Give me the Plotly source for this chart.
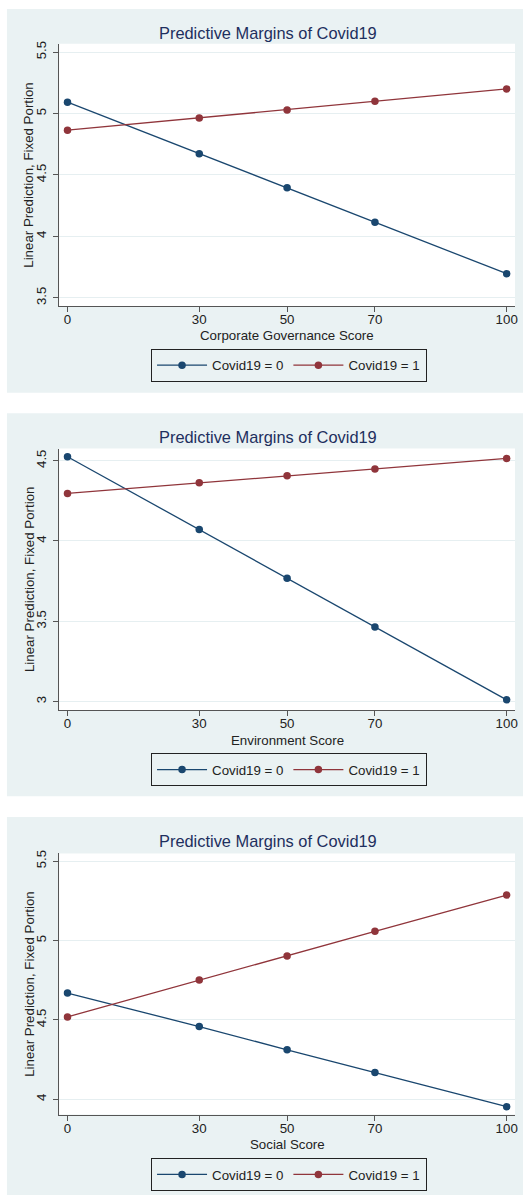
import plotly.graph_objects as go

W, H = 526, 1195

# ---------------- data ----------------
x_scores = [0, 30, 50, 70, 100]
x_tick_labels = ["0", "30", "50", "70", "100"]

gov_c0 = [5.092, 4.672, 4.396, 4.115, 3.696]
gov_c1 = [4.864, 4.964, 5.029, 5.100, 5.200]
env_c0 = [4.525, 4.072, 3.768, 3.465, 3.011]
env_c1 = [4.296, 4.362, 4.407, 4.448, 4.514]
soc_c0 = [4.669, 4.458, 4.312, 4.169, 3.954]
soc_c1 = [4.519, 4.751, 4.903, 5.058, 5.286]

gov_yticks = [3.5, 4, 4.5, 5, 5.5]
env_yticks = [3, 3.5, 4, 4.5]
soc_yticks = [4, 4.5, 5, 5.5]

series_names = ["Covid19 = 0", "Covid19 = 1"]
x_titles = ["Corporate Governance Score", "Environment Score", "Social Score"]
chart_title = "Predictive Margins of Covid19"
y_title = "Linear Prediction, Fixed Portion"

# ---------------- style ----------------
NAVY = "#1A476F"
MAROON = "#90353B"
BG = "#EAF2F3"
GRID = "#E6EFF1"
AXIS = "#555555"
TXT = "#222222"
TITLE_C = "#1E2F5E"
FONT = "Arial, Liberation Sans, sans-serif"


def fx(px):
    return px / W


def fy(py):
    return 1 - py / H


panels = [
    dict(c0=gov_c0, c1=gov_c1, yt=gov_yticks, yr=[3.433, 5.567],
         bg=(5, 390), plot=(40, 303), title_y=29, xt_y=333, leg_y=346),
    dict(c0=env_c0, c1=env_c1, yt=env_yticks, yr=[2.948, 4.576],
         bg=(410.7, 795), plot=(446, 708.3), title_y=434, xt_y=738.5, leg_y=751.7),
    dict(c0=soc_c0, c1=soc_c1, yt=soc_yticks, yr=[3.904, 5.548],
         bg=(815.7, 1195), plot=(852.3, 1114.3), title_y=840, xt_y=1144, leg_y=1158),
]

PLOT_X0, PLOT_X1 = 59.5, 518

fig = go.Figure()
shapes = []
annotations = []
layout = dict(
    width=W, height=H,
    margin=dict(l=0, r=0, t=0, b=0),
    paper_bgcolor="white",
    plot_bgcolor="rgba(0,0,0,0)",
    font=dict(family=FONT, size=13.3, color=TXT),
    showlegend=True,
)

for i, p in enumerate(panels):
    k = "" if i == 0 else str(i + 1)
    xa, ya = "x" + k, "y" + k
    leg = "legend" + k
    for name, vals, col in ((series_names[0], p["c0"], NAVY), (series_names[1], p["c1"], MAROON)):
        fig.add_trace(go.Scatter(
            x=x_scores, y=vals, name=name, mode="lines+markers",
            line=dict(color=col, width=1.3),
            marker=dict(color=col, size=7.5, symbol="circle"),
            xaxis=xa, yaxis=ya, legend=leg, showlegend=True,
            hoverinfo="skip",
        ))
    top, bot = p["plot"]
    layout["xaxis" + k] = dict(
        domain=[fx(PLOT_X0), fx(PLOT_X1)], anchor=ya,
        range=[-1.9, 101.9], tickvals=x_scores, ticktext=x_tick_labels,
        showline=True, linecolor=AXIS, linewidth=1.3,
        ticks="outside", ticklen=5, tickcolor=AXIS, tickwidth=1.2,
        ticklabelstandoff=-4,
        showgrid=False, zeroline=False,
        tickfont=dict(size=13.3, color=TXT, family=FONT),
    )
    layout["yaxis" + k] = dict(
        domain=[fy(bot), fy(top)], anchor=xa,
        range=p["yr"], tickvals=p["yt"], ticktext=[f"{v:g}" for v in p["yt"]],
        showline=True, linecolor=AXIS, linewidth=1.3,
        ticks="outside", ticklen=5, tickcolor=AXIS, tickwidth=1.2,
        ticklabelstandoff=2,
        showgrid=True, gridcolor=GRID, gridwidth=1.2, zeroline=False,
        tickangle=-90,
        tickfont=dict(size=13.3, color=TXT, family=FONT),
    )
    layout[leg] = dict(
        orientation="h", xanchor="center", yanchor="top",
        x=fx(290.5), y=fy(p["leg_y"]),
        bgcolor=BG, bordercolor="#222222", borderwidth=1.2,
        font=dict(size=13.3, color=TXT, family=FONT),
        itemwidth=50, itemclick=False, itemdoubleclick=False,
    )
    # panel background
    shapes.append(dict(type="rect", xref="paper", yref="paper",
                       x0=fx(7), x1=1, y0=fy(p["bg"][1]), y1=fy(p["bg"][0]),
                       fillcolor=BG, line=dict(width=0), layer="below"))
    # plot region white
    shapes.append(dict(type="rect", xref="paper", yref="paper",
                       x0=fx(PLOT_X0), x1=fx(PLOT_X1), y0=fy(bot), y1=fy(top),
                       fillcolor="white", line=dict(width=0), layer="below"))
    # texts
    annotations.append(dict(text=chart_title, xref="paper", yref="paper",
                            x=fx(270), y=fy(p["title_y"]), showarrow=False,
                            xanchor="center", yanchor="middle",
                            font=dict(size=16.4, color=TITLE_C, family=FONT)))
    annotations.append(dict(text=x_titles[i], xref="paper", yref="paper",
                            x=fx(289), y=fy(p["xt_y"]), showarrow=False,
                            xanchor="center", yanchor="middle",
                            font=dict(size=13.3, color=TXT, family=FONT)))
    annotations.append(dict(text=y_title, xref="paper", yref="paper",
                            x=fx(29), y=fy((top + bot) / 2), showarrow=False,
                            textangle=-90, xanchor="center", yanchor="middle",
                            font=dict(size=13.3, color=TXT, family=FONT)))

layout["shapes"] = shapes
layout["annotations"] = annotations
fig.update_layout(**layout)
fig.write_html(
    "out.html",
    config={"displayModeBar": False},
    post_script="document.body.style.margin='0';document.body.style.padding='0';document.body.style.overflow='hidden';",
)
